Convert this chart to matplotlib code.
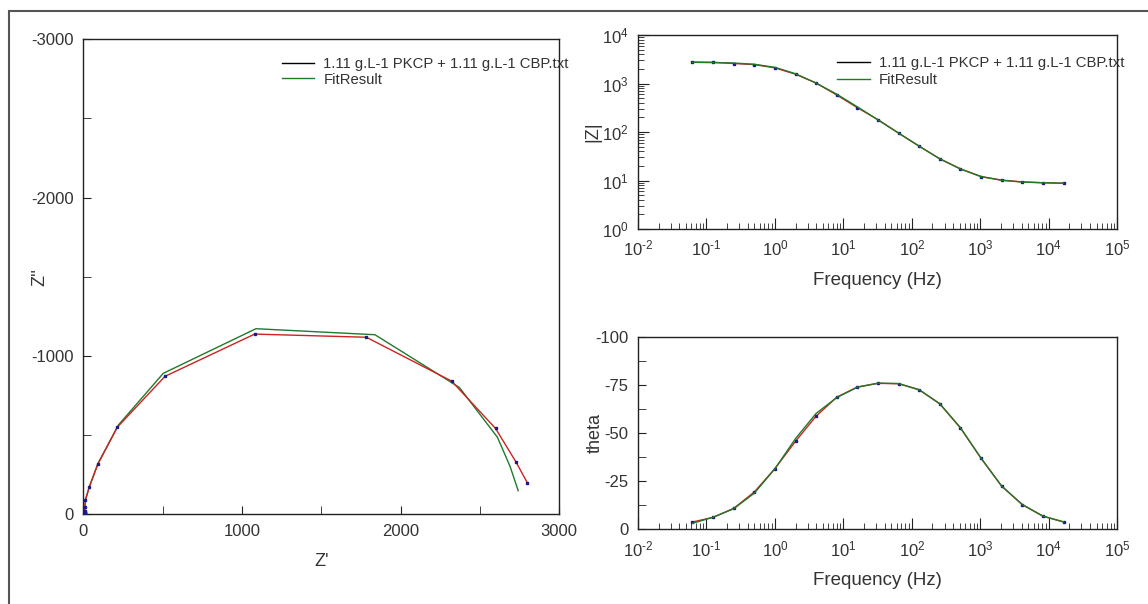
import matplotlib
matplotlib.use("Agg")
import matplotlib.pyplot as plt
from matplotlib.lines import Line2D
from matplotlib.patches import Rectangle
from matplotlib.ticker import LogLocator, NullFormatter, MultipleLocator, FixedLocator, FuncFormatter
import math

plt.rcParams['font.family'] = ['Liberation Sans', 'DejaVu Sans']
plt.rcParams['axes.unicode_minus'] = False
plt.rcParams['mathtext.fontset'] = 'custom'
plt.rcParams['mathtext.rm'] = 'Liberation Sans'
plt.rcParams['mathtext.it'] = 'Liberation Sans'
plt.rcParams['mathtext.default'] = 'regular'

# ---------------- data ----------------
freq = [0.0625, 0.125, 0.25, 0.5, 1, 2, 4, 8, 16, 32, 64, 128, 256, 512,
        1024, 2048, 4096, 8192, 16384]

# Nyquist (measured)
zre_data = [2798, 2728, 2598, 2321, 1784, 1080, 515, 214, 91, 38, 13, 10, 9.5, 9.2,
            9.0, 8.9, 8.8, 8.8, 8.8]
zim_data = [198, 327, 541, 840, 1117, 1137, 870, 548, 314, 171, 88, 45, 22, 12,
            7, 4, 2, 1, 0.6]
# Nyquist (fit)
zre_fit = [2741, 2690, 2610, 2370, 1838, 1088, 504, 221, 92, 38, 14, 10, 9.5, 9.2,
           9.0, 8.9, 8.8, 8.8, 8.8]
zim_fit = [147, 300, 485, 800, 1133, 1171, 889, 562, 318, 172, 90, 46, 22, 12,
           7, 4, 2, 1, 0.6]

# Bode |Z|
zmod_data = [2780, 2750, 2594, 2462, 2109, 1560, 1024, 580, 318, 180, 95, 51, 28,
             17.4, 12.1, 10.2, 9.35, 9.0, 8.8]
zmod_fit = [2745, 2707, 2655, 2502, 2159, 1595, 1022, 604, 331, 178, 95, 51, 28,
            17.3, 12.0, 10.1, 9.3, 9.0, 8.8]

# Bode phase
theta_data = [-3.8, -6.2, -10.9, -19.4, -31.6, -45.8, -58.9, -68.7, -74.0, -75.9,
              -75.7, -72.5, -65.2, -52.7, -36.9, -22.4, -12.8, -6.8, -3.8]
theta_fit = [-3.1, -6.3, -10.7, -18.8, -31.5, -47.2, -60.3, -68.5, -73.9, -76.0,
             -75.8, -72.6, -65.3, -52.8, -37.0, -22.5, -12.9, -6.9, -3.9]

label_data = "1.11 g.L-1 PKCP + 1.11 g.L-1 CBP.txt"
label_fit = "FitResult"

# ---------------- style ----------------
TXT = '#333333'
DATA_C = '#cc2222'
FIT_C = '#1f7a2a'
MK_C = '#1a1a8c'

fig = plt.figure(figsize=(11.48, 6.04), dpi=100)
W, H = 1148, 604

def ax_rect(l, t, r, b):
    return [l / W, 1 - b / H, (r - l) / W, (b - t) / H]

# figure frame
fig.patches.append(Rectangle((9 / W, -0.1), 1.2, 1 - 11 / H + 0.1,
                             transform=fig.transFigure, fill=False,
                             edgecolor='#555555', linewidth=1.5))

def pow_fmt(v, p):
    if v <= 0:
        return ''
    e = int(round(math.log10(v)))
    es = str(e).replace('-', r'\text{-}')
    return r'$10^{' + es + '}$'

def style_axes(ax):
    for s in ax.spines.values():
        s.set_color('#222222')
        s.set_linewidth(1.0)
    ax.tick_params(which='both', direction='in', top=False, right=False,
                   colors='#222222', labelcolor=TXT, labelsize=12)
    ax.tick_params(which='major', length=6, pad=7)
    ax.tick_params(which='minor', length=4)

legend_handles = [Line2D([], [], color='black', lw=1.0),
                  Line2D([], [], color=FIT_C, lw=1.0)]

MS = 1.6

# ---------------- Nyquist ----------------
ax1 = fig.add_axes(ax_rect(83.3, 39.3, 559.3, 514))
ax1.plot(zre_data, zim_data, color=DATA_C, lw=1.0, marker='s', ms=MS,
         mfc=MK_C, mec=MK_C, zorder=3)
ax1.plot(zre_fit, zim_fit, color=FIT_C, lw=1.0, zorder=2)
ax1.set_xlim(0, 3000)
ax1.set_ylim(0, 3000)
ax1.xaxis.set_major_locator(MultipleLocator(1000))
ax1.xaxis.set_minor_locator(MultipleLocator(500))
ax1.yaxis.set_major_locator(MultipleLocator(1000))
ax1.yaxis.set_minor_locator(MultipleLocator(500))
ax1.yaxis.set_major_formatter(FuncFormatter(lambda v, p: '0' if v == 0 else f'-{int(v)}'))
style_axes(ax1)
ax1.tick_params(which='both', length=6)
ax1.set_xlabel("Z'", fontsize=13, color=TXT)
ax1.xaxis.set_label_coords(0.5, -0.082)
ax1.set_ylabel("Z''", fontsize=13, color=TXT)
ax1.yaxis.set_label_coords(-0.074, 0.5)
ax1.legend(legend_handles, [label_data, label_fit], loc='upper left',
           bbox_to_anchor=(0.417, 0.963), frameon=False, fontsize=10.7,
           handlelength=2.2, handletextpad=0.6, labelspacing=0.12,
           borderaxespad=0, borderpad=0, labelcolor=TXT)

# ---------------- Bode |Z| ----------------
ax2 = fig.add_axes(ax_rect(638, 35.1, 1117.3, 229))
ax2.plot(freq, zmod_data, color=DATA_C, lw=1.0, marker='s', ms=MS,
         mfc=MK_C, mec=MK_C, zorder=3)
ax2.plot(freq, zmod_fit, color=FIT_C, lw=1.0, zorder=4)
ax2.set_xscale('log')
ax2.set_yscale('log')
ax2.set_xlim(1e-2, 1e5)
ax2.set_ylim(1e0, 1e4)
for a in (ax2.xaxis, ax2.yaxis):
    a.set_major_locator(LogLocator(base=10, numticks=20))
    a.set_minor_locator(LogLocator(base=10, subs=range(2, 10), numticks=20))
    a.set_minor_formatter(NullFormatter())
    a.set_major_formatter(FuncFormatter(pow_fmt))
style_axes(ax2)
ax2.tick_params(which='major', length=8)
ax2.set_xlabel("Frequency (Hz)", fontsize=13.5, color=TXT)
ax2.xaxis.set_label_coords(0.5, -0.222)
ax2.set_ylabel("|Z|", fontsize=13, color=TXT)
ax2.yaxis.set_label_coords(-0.077, 0.5)
ax2.legend(legend_handles, [label_data, label_fit], loc='upper left',
           bbox_to_anchor=(0.415, 0.892), frameon=False, fontsize=10.7,
           handlelength=2.2, handletextpad=0.6, labelspacing=0.2,
           borderaxespad=0, borderpad=0, labelcolor=TXT)

# ---------------- Bode phase ----------------
ax3 = fig.add_axes(ax_rect(638, 337, 1117.3, 529.3))
ax3.plot(freq, theta_data, color=DATA_C, lw=1.0, marker='s', ms=MS,
         mfc=MK_C, mec=MK_C, zorder=3)
ax3.plot(freq, theta_fit, color=FIT_C, lw=1.0, zorder=4)
ax3.set_xscale('log')
ax3.set_xlim(1e-2, 1e5)
ax3.set_ylim(0, -100)
ax3.xaxis.set_major_locator(LogLocator(base=10, numticks=20))
ax3.xaxis.set_minor_locator(LogLocator(base=10, subs=range(2, 10), numticks=20))
ax3.xaxis.set_minor_formatter(NullFormatter())
ax3.xaxis.set_major_formatter(FuncFormatter(pow_fmt))
ax3.yaxis.set_major_locator(FixedLocator([0, -25, -50, -75, -100]))
ax3.yaxis.set_minor_locator(FixedLocator([-12.5, -37.5, -62.5, -87.5]))
style_axes(ax3)
ax3.tick_params(axis='x', which='major', length=8)
ax3.tick_params(axis='y', which='both', length=6)
ax3.set_xlabel("Frequency (Hz)", fontsize=13.5, color=TXT)
ax3.xaxis.set_label_coords(0.5, -0.222)
ax3.set_ylabel("theta", fontsize=13, color=TXT)
ax3.yaxis.set_label_coords(-0.071, 0.5)

fig.savefig("out.png", dpi=100)
